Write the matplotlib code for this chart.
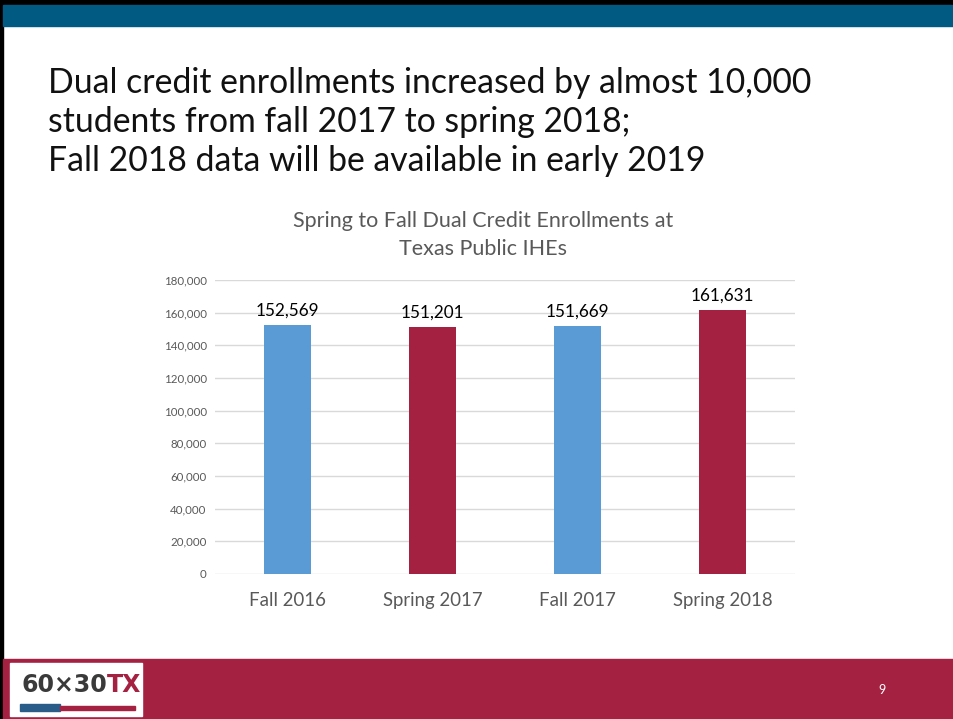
import matplotlib.pyplot as plt
from matplotlib.patches import Rectangle

terms = ['Fall 2016', 'Spring 2017', 'Fall 2017', 'Spring 2018']
enrollments = [152569, 151201, 151669, 161631]
bar_colors = ['#5B9BD5', '#A52142', '#5B9BD5', '#A52142']
yticks = list(range(0, 180001, 20000))

W, H = 954, 719
fig = plt.figure(figsize=(W / 100, H / 100), dpi=100)
plt.rcParams['font.family'] = ['Lato', 'DejaVu Sans']

def box(x, y, w, h, color):
    # pixel coords from top-left
    fig.patches.append(Rectangle((x / W, 1 - (y + h) / H), w / W, h / H,
                                 transform=fig.transFigure, color=color, zorder=0))

# slide frame
box(0, 0, W, 5, 'black')
box(0, 0, 3, H, 'black')
box(3, 5, W, 21, '#005A82')
box(3, 659, W, 60, '#A52142')
box(10, 663, 132, 53, 'white')
# logo
fig.text(107 / W, 1 - 685 / H, '60\u00d730', fontsize=17, fontweight='bold',
         color='#3A3A3A', va='center', ha='right', family='DejaVu Sans')
fig.text(107 / W, 1 - 685 / H, 'TX', fontsize=17, fontweight='bold',
         color='#A52142', va='center', ha='left', family='DejaVu Sans')
box(20, 704, 40, 7, '#2A5C8A')
box(60, 706, 75, 4, '#A52142')
fig.text(882 / W, 1 - 690 / H, '9', fontsize=9, color='white', ha='center', va='center')

# slide title
fig.text(48 / W, 1 - 122 / H,
         'Dual credit enrollments increased by almost 10,000\n'
         'students from fall 2017 to spring 2018;\n'
         'Fall 2018 data will be available in early 2019',
         fontsize=24.3, color='#111111', ha='left', va='center',
         linespacing=1.26)

ax = fig.add_axes([215 / W, 1 - 574 / H, 580 / W, 294 / H])
x = range(len(terms))
bars = ax.bar(x, enrollments, width=0.32, color=bar_colors, zorder=3)
for xi, v in zip(x, enrollments):
    ax.text(xi, v + 4000, f'{v:,}', ha='center', va='bottom', fontsize=12.3, color='black')

ax.set_ylim(0, 180000)
ax.set_xlim(-0.5, 3.5)
ax.set_yticks(yticks)
ax.set_yticklabels([f'{t:,}' for t in yticks], fontsize=8.3, color='#595959')
ax.set_xticks(list(x))
ax.set_xticklabels(terms, fontsize=13.4, color='#595959')
ax.grid(axis='y', color='#D9D9D9', linewidth=1, zorder=0)
ax.tick_params(length=0, axis='y', pad=6)
ax.tick_params(length=0, axis='x', pad=13)
for s in ax.spines.values():
    s.set_visible(False)
fig.text(483 / W, 1 - 235 / H, 'Spring to Fall Dual Credit Enrollments at\nTexas Public IHEs',
         fontsize=15.5, color='#595959', ha='center', va='center', linespacing=1.45)

fig.savefig('out.png', dpi=100)
